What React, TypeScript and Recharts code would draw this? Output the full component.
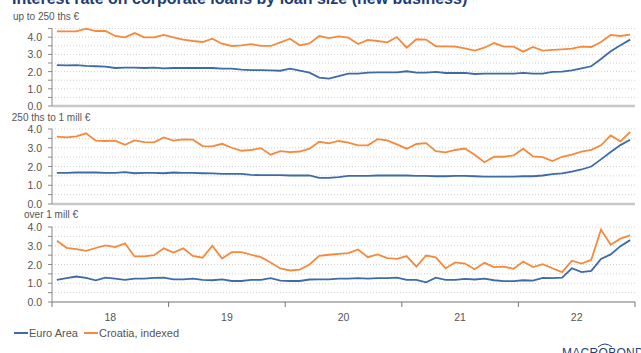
import { LineChart, Line, XAxis, YAxis, CartesianGrid, ReferenceLine } from "recharts"

// ---------------------------------------------------------------------------
// Data (monthly, Jan 2018 – Dec 2022)
// ---------------------------------------------------------------------------

const YEAR_LABELS = ["18", "19", "20", "21", "22"]

const upTo250Euro = [
  2.38, 2.36, 2.38, 2.33, 2.31, 2.29, 2.21, 2.23, 2.23, 2.21, 2.23, 2.19,
  2.21, 2.21, 2.21, 2.21, 2.21, 2.17, 2.17, 2.11, 2.09, 2.09, 2.07, 2.05,
  2.17, 2.05, 1.94, 1.65, 1.59, 1.74, 1.88, 1.88, 1.94, 1.96, 1.96, 1.96,
  2.02, 1.94, 1.94, 1.98, 1.92, 1.92, 1.92, 1.86, 1.88, 1.88, 1.88, 1.88,
  1.92, 1.88, 1.88, 1.98, 2.0, 2.07, 2.19, 2.31, 2.73, 3.18, 3.53, 3.86,
]
const upTo250Croatia = [
  4.34, 4.34, 4.34, 4.5, 4.36, 4.36, 4.07, 3.99, 4.24, 3.99, 3.99, 4.13,
  3.99, 3.86, 3.78, 3.72, 3.91, 3.62, 3.49, 3.53, 3.6, 3.49, 3.49, 3.7,
  3.91, 3.53, 3.64, 4.07, 3.95, 4.05, 3.97, 3.6, 3.84, 3.78, 3.7, 4.01,
  3.39, 3.88, 3.86, 3.47, 3.47, 3.45, 3.35, 3.22, 3.39, 3.66, 3.45, 3.45,
  3.16, 3.43, 3.22, 3.26, 3.29, 3.33, 3.45, 3.43, 3.72, 4.13, 4.07, 4.15,
]

const midEuro = [
  1.66, 1.66, 1.68, 1.68, 1.68, 1.66, 1.66, 1.7, 1.64, 1.66, 1.66, 1.64,
  1.68, 1.66, 1.66, 1.64, 1.63, 1.61, 1.61, 1.61, 1.55, 1.54, 1.54, 1.54,
  1.52, 1.52, 1.52, 1.39, 1.39, 1.43, 1.5, 1.5, 1.5, 1.52, 1.52, 1.52,
  1.52, 1.5, 1.5, 1.48, 1.48, 1.5, 1.5, 1.48, 1.46, 1.46, 1.46, 1.46,
  1.48, 1.48, 1.52, 1.59, 1.63, 1.73, 1.84, 2.0, 2.38, 2.77, 3.14, 3.43,
]
const midCroatia = [
  3.59, 3.55, 3.61, 3.77, 3.38, 3.36, 3.38, 3.16, 3.39, 3.3, 3.29, 3.55,
  3.38, 3.45, 3.43, 3.09, 3.07, 3.21, 3.0, 2.84, 2.88, 2.98, 2.63, 2.82,
  2.77, 2.8, 2.95, 3.32, 3.23, 3.36, 3.27, 3.13, 3.13, 3.46, 3.39, 3.18,
  2.95, 3.2, 3.25, 2.82, 2.75, 2.88, 2.96, 2.63, 2.23, 2.52, 2.52, 2.59,
  2.95, 2.54, 2.5, 2.29, 2.52, 2.63, 2.79, 2.89, 3.13, 3.66, 3.34, 3.84,
]

const over1Euro = [
  1.18, 1.27, 1.36, 1.29, 1.16, 1.3, 1.25, 1.18, 1.25, 1.25, 1.29, 1.3,
  1.21, 1.21, 1.25, 1.18, 1.16, 1.21, 1.12, 1.12, 1.18, 1.18, 1.27, 1.14,
  1.12, 1.12, 1.2, 1.21, 1.21, 1.25, 1.25, 1.27, 1.25, 1.27, 1.27, 1.3,
  1.18, 1.18, 1.05, 1.3, 1.18, 1.18, 1.23, 1.2, 1.25, 1.16, 1.11, 1.11,
  1.16, 1.14, 1.29, 1.27, 1.3, 1.8, 1.59, 1.66, 2.3, 2.54, 2.98, 3.3,
]
const over1Croatia = [
  3.27, 2.89, 2.82, 2.73, 2.88, 3.02, 2.93, 3.13, 2.43, 2.43, 2.5, 2.86,
  2.64, 2.86, 2.46, 2.36, 3.0, 2.32, 2.66, 2.66, 2.52, 2.39, 2.11, 1.79,
  1.68, 1.73, 2.0, 2.46, 2.52, 2.57, 2.61, 2.8, 2.39, 2.54, 2.34, 2.3,
  2.45, 1.89, 2.48, 2.38, 1.79, 2.11, 2.05, 1.75, 2.09, 1.86, 1.89, 1.77,
  2.16, 1.86, 2.02, 1.8, 1.59, 2.2, 2.05, 2.25, 3.86, 3.05, 3.38, 3.55,
]

// ---------------------------------------------------------------------------
// Styles
// ---------------------------------------------------------------------------

const BLUE = "#3d6ba6"
const ORANGE = "#f48a3c"
const TEXT = "#555"
const FONT = "Arial, 'Liberation Sans', sans-serif"
const W = 641

function rows(ea: number[], hr: number[]) {
  return ea.map((v, i) => ({ x: i + 0.5, ea: v, hr: hr[i] }))
}

function YTick({ x, y, payload }: any) {
  const v = payload.value as number
  if (v % 1 !== 0) return null
  return (
    <text x={x} y={y} dy={4} textAnchor="end" fontSize={10.5} fill={TEXT} fontFamily={FONT}>
      {v.toFixed(1)}
    </text>
  )
}

function XTick({ x, y, payload }: any) {
  const v = payload.value as number
  if (v === 0) return null
  const label = YEAR_LABELS[v / 12 - 1]
  return (
    <text x={x - 58.3} y={y} dy={12} textAnchor="middle" fontSize={10.5} fill={TEXT} fontFamily={FONT}>
      {label}
    </text>
  )
}

function Panel({
  ea,
  hr,
  max,
  top,
  height,
  marginTop,
  marginBottom,
  bottomAxis,
}: {
  ea: number[]
  hr: number[]
  max: number
  top: number
  height: number
  marginTop: number
  marginBottom: number
  bottomAxis?: boolean
}) {
  const ticks: number[] = []
  for (let t = 0; t <= max + 1e-9; t += 0.5) ticks.push(t)
  return (
    <div style={{ position: "absolute", left: 0, top }}>
      <LineChart
        width={W}
        height={height}
        data={rows(ea, hr)}
        margin={{ top: marginTop, right: 6, bottom: marginBottom, left: 0 }}
      >
        <CartesianGrid vertical={false} stroke="#cfcfcf" strokeDasharray="1 2" />
        <XAxis
          type="number"
          dataKey="x"
          domain={[0, 60]}
          ticks={[0, 12, 24, 36, 48, 60]}
          interval={0}
          hide={!bottomAxis}
          height={22}
          axisLine={{ stroke: "#b8b8b8", strokeWidth: 2 }}
          tickLine={{ stroke: "#777" }}
          tickSize={5}
          tick={<XTick />}
        />
        <YAxis
          type="number"
          domain={[0, max]}
          ticks={ticks}
          interval={0}
          width={52}
          axisLine={{ stroke: "#8a8a8a" }}
          tickLine={{ stroke: "#8a8a8a" }}
          tickSize={4}
          tickMargin={6}
          tick={<YTick />}
        />
        {!bottomAxis && <ReferenceLine y={0} stroke="#c8c8c8" strokeWidth={2.5} />}
        <Line dataKey="ea" stroke={BLUE} strokeWidth={1.8} dot={false} isAnimationActive={false} />
        <Line dataKey="hr" stroke={ORANGE} strokeWidth={1.8} dot={false} isAnimationActive={false} />
      </LineChart>
    </div>
  )
}

export default function App() {
  return (
    <div
      style={{
        position: "absolute",
        left: 0,
        top: 0,
        width: W,
        height: 353,
        overflow: "hidden",
        background: "#fff",
        fontFamily: FONT,
      }}
    >
      <Panel ea={upTo250Euro} hr={upTo250Croatia} max={4.5} top={0} height={114} marginTop={28.6} marginBottom={8} />
      <Panel ea={midEuro} hr={midCroatia} max={4} top={110} height={104} marginTop={19} marginBottom={10} />
      <Panel ea={over1Euro} hr={over1Croatia} max={4} top={210} height={120} marginTop={17} marginBottom={6} bottomAxis />

      <svg width={W} height={353} style={{ position: "absolute", left: 0, top: 0, pointerEvents: "none" }}>
        <text x={12} y={4} fontSize={16} fontWeight="bold" fill="#1d3d73" fontFamily={FONT}>
          Interest rate on corporate loans by loan size (new business)
        </text>
        <g fontSize={10} fill={TEXT} fontFamily={FONT} textAnchor="middle">
          <text x={46} y={19.5}>up to 250 ths €</text>
          <text x={51} y={120.5}>250 ths to 1 mill €</text>
          <text x={51} y={218}>over 1 mill €</text>
        </g>

        {/* legend */}
        <g fontSize={11} fill={TEXT} fontFamily={FONT}>
          <line x1={14} x2={28} y1={333} y2={333} stroke={BLUE} strokeWidth={2} />
          <text x={29} y={337}>Euro Area</text>
          <line x1={84} x2={98} y1={333} y2={333} stroke={ORANGE} strokeWidth={2} />
          <text x={99} y={337}>Croatia, indexed</text>
        </g>

        {/* logo */}
        <text x={562} y={357} fontSize={12} fill="#1f3f73" fontFamily={FONT} letterSpacing={0.3}>
          MACROBOND
        </text>
        <path d="M598 347 Q605 341 612 347" fill="none" stroke="#1f3f73" strokeWidth={1} />
      </svg>
    </div>
  )
}
